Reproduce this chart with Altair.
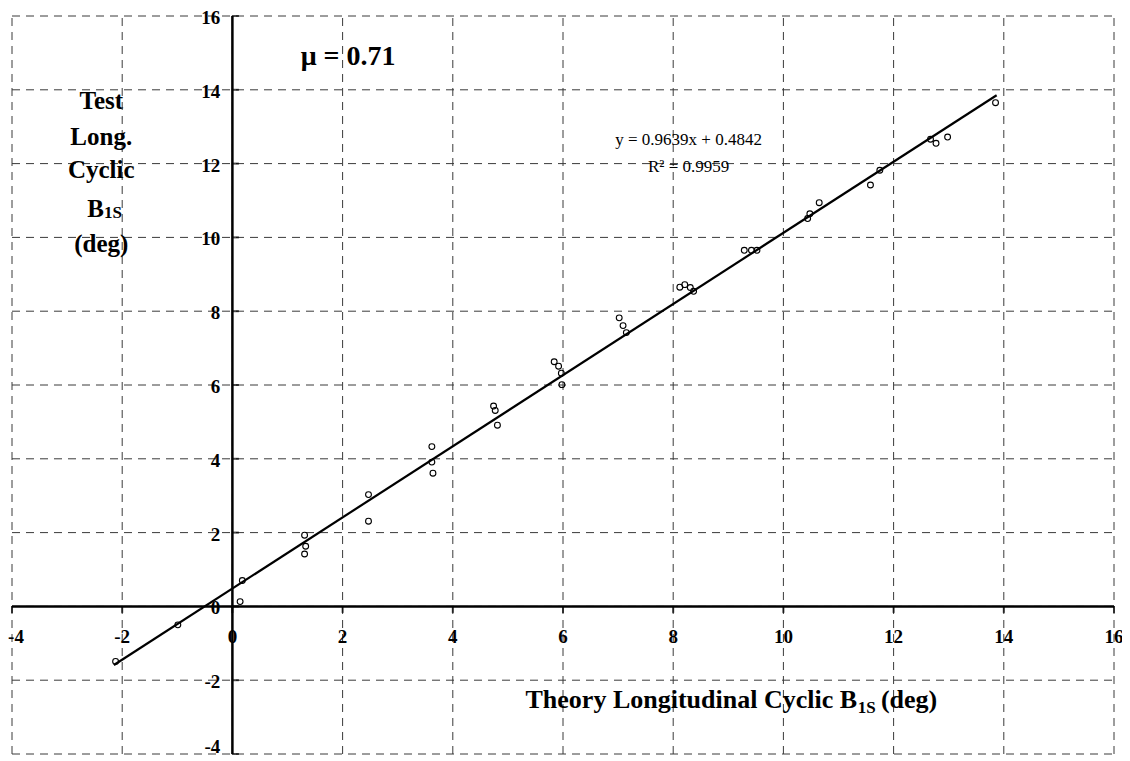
import altair as alt
import pandas as pd

# Data
theory = [-2.12, -0.99, 0.18, 0.14, 1.31, 1.33, 1.31, 2.47, 2.47, 3.62, 3.62, 3.64,
          4.74, 4.77, 4.81, 5.84, 5.92, 5.97, 5.98, 7.02, 7.09, 7.15, 8.12, 8.21,
          8.31, 8.37, 9.29, 9.42, 9.52, 10.44, 10.48, 10.65, 11.58, 11.75, 12.67,
          12.77, 12.98, 13.85]
test = [-1.49, -0.50, 0.70, 0.13, 1.93, 1.63, 1.42, 3.03, 2.31, 4.33, 3.91, 3.61,
        5.43, 5.31, 4.91, 6.63, 6.51, 6.32, 6.01, 7.82, 7.61, 7.42, 8.65, 8.72,
        8.64, 8.54, 9.65, 9.65, 9.65, 10.51, 10.64, 10.94, 11.42, 11.82, 12.66,
        12.55, 12.72, 13.65]

slope = 0.9639
intercept = 0.4842
trend_x = [-2.15, 13.87]

ticks = [-4, -2, 0, 2, 4, 6, 8, 10, 12, 14, 16]
tick_labels = ["-4", "-2", "0", "2", "4", "6", "8", "10", "12", "14", "16"]
lo, hi = -4, 16

FONT = "Liberation Serif"

xs = alt.Scale(domain=[lo, hi], nice=False, zero=False)
ys = alt.Scale(domain=[lo, hi], nice=False, zero=False)


def X(f):
    return alt.X(f, type="quantitative", scale=xs, axis=None)


def Y(f):
    return alt.Y(f, type="quantitative", scale=ys, axis=None)


# grid
grid_v = pd.DataFrame({"x": ticks, "y1": [lo] * len(ticks), "y2": [hi] * len(ticks)})
grid_h = pd.DataFrame({"y": ticks, "x1": [lo] * len(ticks), "x2": [hi] * len(ticks)})

gv = alt.Chart(grid_v).mark_rule(color="#3a3a3a", strokeDash=[8, 6], strokeWidth=1).encode(
    x=X("x"), y=Y("y1"), y2="y2")
gh = alt.Chart(grid_h).mark_rule(color="#3a3a3a", strokeDash=[8, 6], strokeWidth=1).encode(
    y=Y("y"), x=X("x1"), x2="x2")

# axis lines through origin
ax_x = alt.Chart(pd.DataFrame({"x1": [lo], "x2": [hi], "y": [0]})).mark_rule(
    color="black", strokeWidth=2.5).encode(x=X("x1"), x2="x2", y=Y("y"))
ax_y = alt.Chart(pd.DataFrame({"y1": [lo], "y2": [hi], "x": [0]})).mark_rule(
    color="black", strokeWidth=2.5).encode(y=Y("y1"), y2="y2", x=X("x"))

# tick marks
tx = pd.DataFrame({"x": ticks, "y": [0] * len(ticks)})
ty = pd.DataFrame({"y": ticks, "x": [0] * len(ticks)})
tick_x = alt.Chart(tx).mark_tick(color="black", thickness=2, size=7, yOffset=3,
                                 orient="vertical").encode(x=X("x"), y=Y("y"))
tick_y = alt.Chart(ty).mark_tick(color="black", thickness=2, size=7, xOffset=3,
                                 orient="horizontal").encode(x=X("x"), y=Y("y"))

# tick labels
lx = pd.DataFrame({"x": ticks, "y": [-0.84] * len(ticks), "t": tick_labels})
ly = pd.DataFrame({"y": ticks, "x": [-0.22] * len(ticks), "t": tick_labels})
lab_style = dict(font=FONT, fontSize=19, fontWeight="bold", baseline="middle", color="black")
lab_x = alt.Chart(lx.iloc[1:]).mark_text(align="center", **lab_style).encode(
    x=X("x"), y=Y("y"), text="t:N")
lab_x0 = alt.Chart(lx.iloc[:1]).mark_text(align="center", dx=4, **lab_style).encode(
    x=X("x"), y=Y("y"), text="t:N")
lab_y = alt.Chart(ly.iloc[1:]).mark_text(align="right", dy=2, **lab_style).encode(
    x=X("x"), y=Y("y"), text="t:N")
lab_y0 = alt.Chart(ly.iloc[:1]).mark_text(align="right", dy=-7, **lab_style).encode(
    x=X("x"), y=Y("y"), text="t:N")

# trend line
trend = pd.DataFrame({"x": trend_x, "y": [slope * v + intercept for v in trend_x]})
line = alt.Chart(trend).mark_line(color="black", strokeWidth=2.2).encode(x=X("x"), y=Y("y"))

# data points
pts = alt.Chart(pd.DataFrame({"x": theory, "y": test})).mark_point(
    shape="circle", filled=False, color="black", size=34, strokeWidth=1.1, opacity=1
).encode(x=X("x"), y=Y("y"))

# annotations
eq = alt.Chart(pd.DataFrame({"x": [8.28, 8.28], "y": [12.63, 11.9],
                             "t": ["y = 0.9639x + 0.4842", "R² = 0.9959"]})).mark_text(
    font=FONT, fontSize=17, baseline="middle", align="center", color="black"
).encode(x=X("x"), y=Y("y"), text="t:N")

mu = alt.Chart(pd.DataFrame({"x": [2.1], "y": [14.88], "t": ["μ = 0.71"]})).mark_text(
    font=FONT, fontSize=28, fontWeight="bold", baseline="middle", align="center", color="black"
).encode(x=X("x"), y=Y("y"), text="t:N")

# y title (stacked lines)
yt = pd.DataFrame({"x": [-2.38, -2.38, -2.38, -2.38], "y": [13.69, 12.71, 11.82, 9.81],
                   "t": ["Test", "Long.", "Cyclic", "(deg)"]})
ytitle = alt.Chart(yt).mark_text(font=FONT, fontSize=25, fontWeight="bold", baseline="middle",
                                 align="center", color="black").encode(x=X("x"), y=Y("y"), text="t:N")
yb = alt.Chart(pd.DataFrame({"x": [-2.33], "y": [10.76], "t": ["B"]})).mark_text(
    font=FONT, fontSize=25, fontWeight="bold", baseline="middle", align="right", color="black"
).encode(x=X("x"), y=Y("y"), text="t:N")
ysub = alt.Chart(pd.DataFrame({"x": [-2.33], "y": [10.76], "t": ["1S"]})).mark_text(
    font=FONT, fontSize=17, fontWeight="bold", baseline="middle", align="left", dy=4, color="black"
).encode(x=X("x"), y=Y("y"), text="t:N")

# x title
xt_main = alt.Chart(pd.DataFrame({"x": [5.32], "y": [-2.74], "t": ["Theory Longitudinal Cyclic B"]})).mark_text(
    font=FONT, fontSize=26, fontWeight="bold", baseline="alphabetic", align="left", color="black"
).encode(x=X("x"), y=Y("y"), text="t:N")
xt_sub = alt.Chart(pd.DataFrame({"x": [11.35], "y": [-2.74], "t": ["1S"]})).mark_text(
    font=FONT, fontSize=17, fontWeight="bold", baseline="alphabetic", align="left", dy=5, color="black"
).encode(x=X("x"), y=Y("y"), text="t:N")
xt_end = alt.Chart(pd.DataFrame({"x": [11.77], "y": [-2.74], "t": ["(deg)"]})).mark_text(
    font=FONT, fontSize=26, fontWeight="bold", baseline="alphabetic", align="left", color="black"
).encode(x=X("x"), y=Y("y"), text="t:N")

chart = alt.layer(
    gv, gh, lab_x, lab_x0, lab_y, lab_y0, ax_x, ax_y, tick_x, tick_y, line, pts, eq, mu,
    ytitle, yb, ysub, xt_main, xt_sub, xt_end
).properties(
    width=1102, height=738,
    autosize=alt.AutoSizeParams(type="none"),
    padding={"left": 4, "top": 8, "right": 8, "bottom": 4},
    background="white",
).configure_view(stroke=None)

chart.save("out.html", embed_options={"renderer": "svg", "actions": False})
